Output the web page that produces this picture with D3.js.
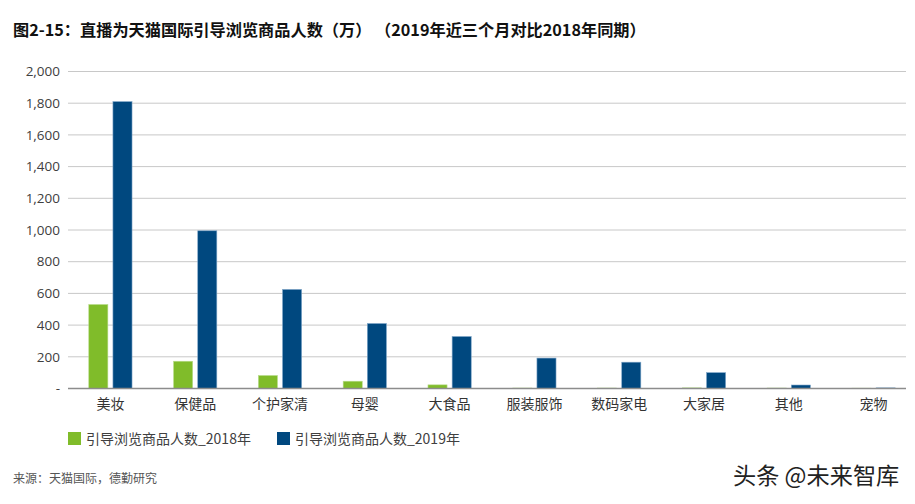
<!DOCTYPE html>
<html>
<head>
<meta charset="utf-8">
<script src="https://cdn.jsdelivr.net/npm/d3@7"></script>
<style>
  body { margin: 0; background: #fff; }
  svg { display: block; font-family: "Noto Sans CJK SC", "Open Sans", sans-serif; }
</style>
</head>
<body>
<svg id="chart" width="915" height="504"></svg>
<script>
const categories = ['美妆', '保健品', '个护家清', '母婴', '大食品', '服装服饰', '数码家电', '大家居', '其他', '宠物'];
const seriesNames = ['引导浏览商品人数_2018年', '引导浏览商品人数_2019年'];
const values2018 = [530, 172, 82, 46, 23, 3, 3, 4, 3, 2];
const values2019 = [1810, 995, 625, 410, 328, 192, 166, 100, 22, 4];
const yTicks = [0, 200, 400, 600, 800, 1000, 1200, 1400, 1600, 1800, 2000];
const colors = ['#80bc2a', '#00487f'];

const svg = d3.select('#chart');

// Title
svg.append('text')
  .attr('x', 13)
  .attr('y', 36)
  .attr('font-size', 16.2)
  .attr('font-weight', 'bold')
  .attr('fill', '#111')
  .text('图2-15：直播为天猫国际引导浏览商品人数（万） （2019年近三个月对比2018年同期）');

const plotLeft = 68;
const plotRight = 906;

const y = d3.scaleLinear().domain([0, 2000]).range([388.5, 71.5]);

const x0 = d3.scaleBand()
  .domain(categories)
  .range([68, 916])
  .paddingInner(0.49)
  .paddingOuter(0.245);

const x1 = d3.scaleBand()
  .domain(seriesNames)
  .range([0, x0.bandwidth()])
  .paddingInner(0.21);

// Gridlines
svg.append('g')
  .selectAll('line')
  .data(yTicks.filter(d => d > 0))
  .join('line')
    .attr('x1', plotLeft)
    .attr('x2', plotRight)
    .attr('y1', d => y(d))
    .attr('y2', d => y(d))
    .attr('stroke', '#c8c8c8')
    .attr('stroke-width', 1);

// Y labels
svg.append('g')
  .selectAll('text')
  .data(yTicks)
  .join('text')
    .attr('x', 60)
    .attr('y', d => y(d))
    .attr('dy', '0.35em')
    .attr('text-anchor', 'end')
    .attr('font-family', 'Open Sans, sans-serif')
    .attr('font-size', 13.5)
    .attr('fill', '#404040')
    .text(d => d === 0 ? '-' : d3.format(',')(d));

// Bars
const data = categories.map((c, i) => ({ cat: c, vals: [values2018[i], values2019[i]] }));

const groups = svg.append('g')
  .selectAll('g')
  .data(data)
  .join('g')
    .attr('transform', d => `translate(${x0(d.cat)},0)`);

groups.selectAll('rect')
  .data(d => d.vals.map((v, j) => ({ key: seriesNames[j], v, j })))
  .join('rect')
    .attr('x', d => x1(d.key))
    .attr('width', x1.bandwidth())
    .attr('y', d => y(d.v))
    .attr('height', d => y(0) - y(d.v))
    .attr('fill', d => colors[d.j])
    .attr('stroke', d => d.j === 1 ? '#7fa6c8' : '#b8dc8c')
    .attr('stroke-width', 0.6);

// Baseline
svg.append('line')
  .attr('x1', plotLeft)
  .attr('x2', plotRight)
  .attr('y1', y(0))
  .attr('y2', y(0))
  .attr('stroke', '#8c8c8c')
  .attr('stroke-width', 1.5);

// X labels
svg.append('g')
  .selectAll('text')
  .data(categories)
  .join('text')
    .attr('x', d => x0(d) + x0.bandwidth() / 2)
    .attr('y', 404)
    .attr('dy', '0.35em')
    .attr('text-anchor', 'middle')
    .attr('font-size', 14)
    .attr('fill', '#333')
    .text(d => d);

// Legend
const legend = svg.append('g')
  .selectAll('g')
  .data(seriesNames)
  .join('g')
    .attr('transform', (d, i) => `translate(${[68, 277][i]},432)`);

legend.append('rect')
  .attr('width', 13)
  .attr('height', 13)
  .attr('fill', (d, i) => colors[i]);

legend.append('text')
  .attr('x', 18)
  .attr('y', 7)
  .attr('dy', '0.35em')
  .attr('font-size', 14)
  .attr('fill', '#404040')
  .text(d => d);

// Source
svg.append('text')
  .attr('x', 13)
  .attr('y', 479)
  .attr('dy', '0.35em')
  .attr('font-size', 12)
  .attr('fill', '#555')
  .text('来源：天猫国际，德勤研究');

// Watermark
svg.append('text')
  .attr('x', 733)
  .attr('y', 476)
  .attr('dy', '0.35em')
  .attr('font-size', 23.2)
  .attr('fill', '#222')
  .text('头条 @未来智库');
</script>
</body>
</html>
